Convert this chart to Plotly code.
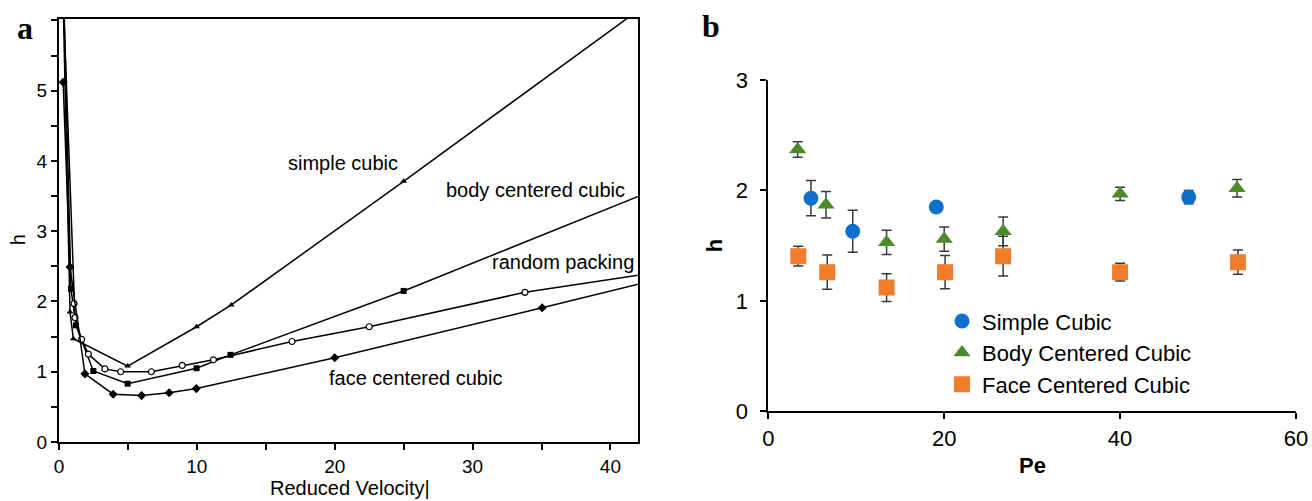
import plotly.graph_objects as go

# ---------- Panel a data (reduced velocity vs h) ----------
sc_x = [0.30, 0.80, 1.04, 4.98, 9.98, 12.5, 25.0, 45.0]
sc_y = [6.30, 1.85, 1.47, 1.08, 1.64, 1.95, 3.71, 6.57]

bcc_x = [0.35, 0.87, 1.23, 2.49, 4.98, 9.98, 12.44, 25.0, 45.0]
bcc_y = [6.30, 2.18, 1.66, 1.01, 0.83, 1.05, 1.24, 2.15, 3.73]

rp_x = [0.33, 1.09, 1.16, 1.64, 2.13, 3.33, 4.47, 6.70, 8.94, 11.2, 16.9, 22.5, 33.8, 45.0]
rp_y = [6.20, 1.97, 1.77, 1.46, 1.25, 1.04, 1.00, 1.00, 1.09, 1.17, 1.43, 1.64, 2.13, 2.46]

fcc_x = [0.30, 0.80, 1.88, 3.93, 5.99, 7.99, 9.96, 20.0, 35.05, 45.0]
fcc_y = [5.12, 2.49, 0.97, 0.68, 0.66, 0.70, 0.76, 1.20, 1.91, 2.39]

# ---------- Panel b data (Pe vs h) ----------
b_sc_x = [4.85, 9.6, 19.1, 47.8]
b_sc_y = [1.93, 1.63, 1.85, 1.94]
b_sc_e = [0.16, 0.19, 0.0, 0.06]

b_bcc_x = [3.34, 6.56, 13.45, 20.0, 26.7, 40.0, 53.3]
b_bcc_y = [2.37, 1.87, 1.53, 1.56, 1.63, 1.97, 2.02]
b_bcc_e = [0.07, 0.12, 0.11, 0.11, 0.13, 0.06, 0.08]

b_fcc_x = [3.41, 6.7, 13.45, 20.1, 26.7, 40.0, 53.4]
b_fcc_y = [1.405, 1.26, 1.12, 1.26, 1.405, 1.26, 1.35]
b_fcc_e = [0.09, 0.155, 0.125, 0.15, 0.18, 0.08, 0.11]

W, H = 1312, 501
SL, SR, ST, SB = 59, 1296, 19, 441.7          # plot-area edges in pixels
ML, MT = SL, ST
MR = W - SR
MB = H - SB
PW = SR - SL
PH = SB - ST


def px(xp):
    return (xp - SL) / PW


def py(yp):
    return (SB - yp) / PH


FONT = "Liberation Sans, Arial, sans-serif"
SERIF = "Liberation Serif, Times New Roman, serif"

fig = go.Figure()

line_style = dict(color="black", width=1.5)
fig.add_trace(go.Scatter(x=sc_x, y=sc_y, mode="lines+markers", line=line_style,
                         marker=dict(symbol="triangle-up", size=6, color="black"),
                         xaxis="x", yaxis="y", showlegend=False))
fig.add_trace(go.Scatter(x=bcc_x, y=bcc_y, mode="lines+markers", line=line_style,
                         marker=dict(symbol="square", size=6, color="black"),
                         xaxis="x", yaxis="y", showlegend=False))
fig.add_trace(go.Scatter(x=rp_x, y=rp_y, mode="lines+markers", line=line_style,
                         marker=dict(symbol="circle", size=6, color="white",
                                     line=dict(color="black", width=1.2)),
                         xaxis="x", yaxis="y", showlegend=False))
fig.add_trace(go.Scatter(x=fcc_x, y=fcc_y, mode="lines+markers", line=line_style,
                         marker=dict(symbol="diamond", size=7, color="black"),
                         xaxis="x", yaxis="y", showlegend=False))

err_style = dict(type="data", visible=True, color="#3a3a3a", thickness=1.5, width=5)
fig.add_trace(go.Scatter(x=b_sc_x, y=b_sc_y, mode="markers", name="Simple Cubic",
                         marker=dict(symbol="circle", size=15, color="#0F6FCF"),
                         error_y=dict(array=b_sc_e, **err_style),
                         xaxis="x2", yaxis="y2"))
fig.add_trace(go.Scatter(x=b_bcc_x, y=b_bcc_y, mode="markers", name="Body Centered Cubic",
                         marker=dict(symbol="triangle-up", size=15, color="#4C8A2C"),
                         error_y=dict(array=b_bcc_e, **err_style),
                         xaxis="x2", yaxis="y2"))
fig.add_trace(go.Scatter(x=b_fcc_x, y=b_fcc_y, mode="markers", name="Face Centered Cubic",
                         marker=dict(symbol="square", size=16, color="#F07D2C"),
                         error_y=dict(array=b_fcc_e, **err_style),
                         xaxis="x2", yaxis="y2"))

axis_font = dict(family=FONT, size=19, color="black")
b_font = dict(family=FONT, size=22, color="black")
a_txt = dict(family=FONT, size=20, color="black")

annotations = [
    dict(text="<b>a</b>", x=px(25), y=py(28), font=dict(family=SERIF, size=32, color="black")),
    dict(text="<b>b</b>", x=px(711), y=py(26), font=dict(family=SERIF, size=32, color="black")),
    dict(text="h", x=px(18), y=py(240), textangle=-90, font=a_txt),
    dict(text="Reduced Velocity|", x=px(350), y=py(488), font=a_txt),
    dict(text="simple cubic", x=px(343), y=py(163), font=a_txt),
    dict(text="body centered cubic", x=px(535), y=py(190), font=a_txt),
    dict(text="random packing", x=px(563), y=py(262), font=a_txt),
    dict(text="face centered cubic", x=px(415), y=py(378), font=a_txt),
    dict(text="<b>h</b>", x=px(714), y=py(246), textangle=-90, font=dict(family=FONT, size=22, color="black")),
    dict(text="<b>Pe</b>", x=px(1032), y=py(465), font=dict(family=FONT, size=22, color="black")),
]
for a in annotations:
    a.update(xref="paper", yref="paper", showarrow=False, xanchor="center", yanchor="middle")

fig.update_layout(
    width=W, height=H,
    margin=dict(l=ML, r=MR, t=MT, b=MB, autoexpand=False),
    paper_bgcolor="white", plot_bgcolor="white",
    xaxis=dict(domain=[0, px(638)], range=[0, 42], showgrid=False, zeroline=False,
               showline=True, linecolor="black", linewidth=2, mirror=True,
               ticks="outside", ticklen=6, tickwidth=1.5, tickcolor="black",
               tickvals=[0, 10, 20, 30, 40], tickfont=axis_font,
               minor=dict(dtick=5, ticks="outside", ticklen=6, tickwidth=1.5, tickcolor="black"),
               anchor="y"),
    yaxis=dict(domain=[0, 1], range=[0, 6.02], showgrid=False, zeroline=False,
               showline=True, linecolor="black", linewidth=2, mirror=True,
               ticks="outside", ticklen=6, tickwidth=1.5, tickcolor="black",
               tickvals=[0, 1, 2, 3, 4, 5], tickfont=axis_font,
               minor=dict(dtick=0.5, ticks="outside", ticklen=6, tickwidth=1.5, tickcolor="black"),
               anchor="x"),
    xaxis2=dict(domain=[px(768.3), 1], range=[0, 60], showgrid=False, zeroline=False,
                showline=True, linecolor="black", linewidth=2,
                ticks="outside", ticklen=6, tickwidth=2, tickcolor="black",
                tickvals=[0, 20, 40, 60], tickfont=b_font, anchor="y2"),
    yaxis2=dict(domain=[py(411), py(80)], range=[0, 3], showgrid=False, zeroline=False,
                showline=True, linecolor="black", linewidth=2,
                ticks="outside", ticklen=6, tickwidth=2, tickcolor="black",
                tickvals=[0, 1, 2, 3], tickfont=b_font, anchor="x2", ticklabelstandoff=8),
    legend=dict(x=px(942), y=py(300), xanchor="left", yanchor="top",
                font=dict(family=FONT, size=22, color="black"), bgcolor="rgba(0,0,0,0)"),
    annotations=annotations,
)

fig.write_html(
    "out.html",
    config={"displayModeBar": False},
    post_script="document.body.style.margin='0';document.body.style.overflow='hidden';",
)
